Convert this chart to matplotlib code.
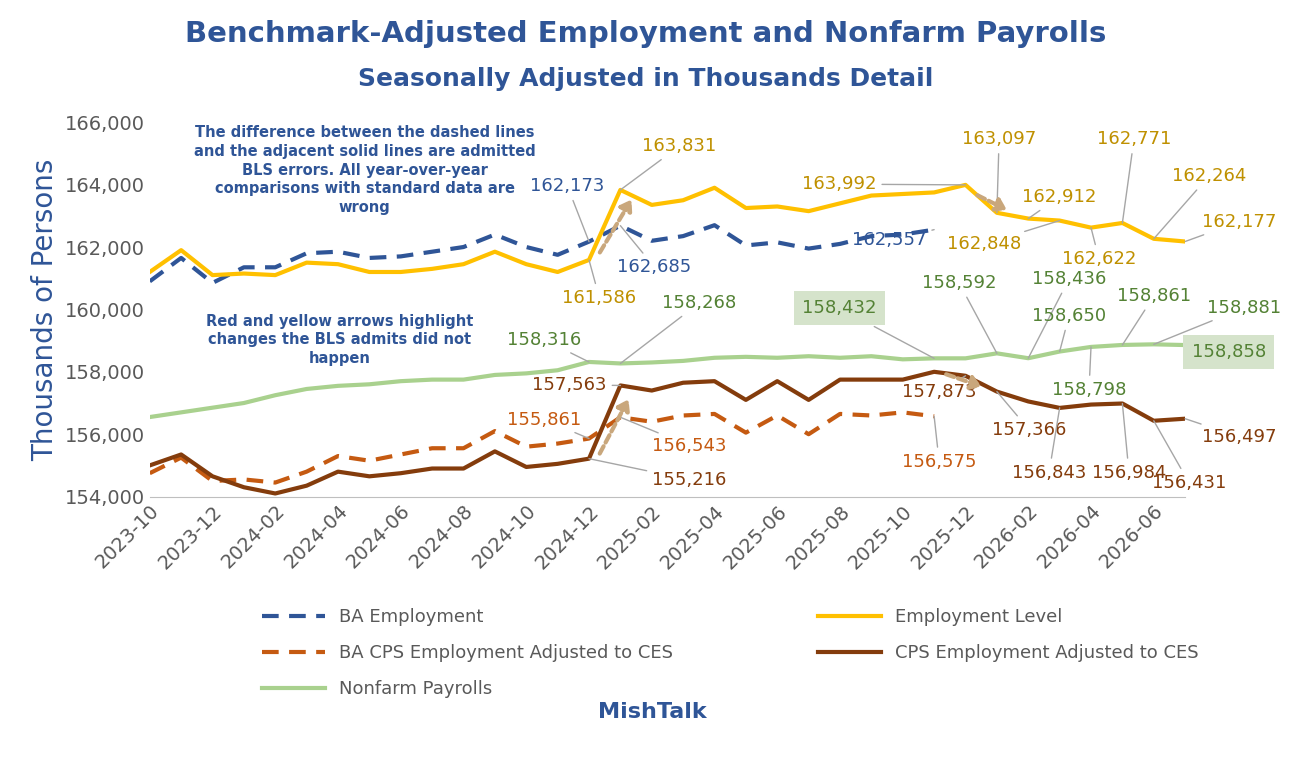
import numpy as np
import matplotlib.pyplot as plt
import pandas as pd

months = pd.date_range('2023-10-01', periods=34, freq='MS').strftime('%Y-%m').tolist()

emp_level = [161200, 161900, 161100, 161150, 161100, 161500, 161450, 161200, 161200, 161300,
             161450, 161850, 161450, 161200, 161586, 163831, 163350, 163500, 163900, 163250,
             163300, 163150, 163400, 163650, 163700, 163750, 163992, 163097, 162912, 162848,
             162622, 162771, 162264, 162177]
ba_emp = [160900, 161650, 160850, 161350, 161350, 161800, 161850, 161650, 161700, 161850,
          162000, 162400, 162000, 161750, 162173, 162685, 162200, 162350, 162700, 162050,
          162150, 161950, 162100, 162350, 162400, 162557]
nfp = [156550, 156700, 156850, 157000, 157250, 157450, 157550, 157600, 157700, 157750,
       157750, 157900, 157950, 158050, 158316, 158268, 158300, 158350, 158450, 158480,
       158450, 158500, 158450, 158500, 158400, 158432, 158432, 158592, 158436, 158650,
       158798, 158861, 158881, 158858]
cps = [155000, 155350, 154650, 154300, 154100, 154350, 154800, 154650, 154750, 154900,
       154900, 155450, 154950, 155050, 155216, 157563, 157400, 157650, 157700, 157100,
       157700, 157100, 157750, 157750, 157750, 158000, 157873, 157366, 157050, 156843,
       156950, 156984, 156431, 156497]
ba_cps = [154750, 155250, 154500, 154550, 154450, 154800, 155300, 155150, 155350, 155550,
          155550, 156100, 155600, 155700, 155861, 156543, 156400, 156600, 156650, 156050,
          156600, 156000, 156650, 156600, 156700, 156575]

BLUE = '#2F5597'; GOLD = '#FFC000'; GOLD_T = '#BF9000'; GREEN = '#A9D18E'; GREEN_T = '#548235'
BROWN = '#843C0C'; ORANGE = '#C55A11'; TAN = '#C9A77C'

fig = plt.figure(figsize=(12.91, 7.64), dpi=100)
ax = fig.add_axes([0.116, 0.35, 0.802, 0.49])
x = np.arange(len(months))
l1, = ax.plot(x[:len(ba_emp)], ba_emp, color=BLUE, lw=3, ls=(0, (4, 2.5)), label='BA Employment')
l2, = ax.plot(x, emp_level, color=GOLD, lw=3, label='Employment Level')
l3, = ax.plot(x[:len(ba_cps)], ba_cps, color=ORANGE, lw=3, ls=(0, (4, 2.5)), label='BA CPS Employment Adjusted to CES')
l4, = ax.plot(x, cps, color=BROWN, lw=3, label='CPS Employment Adjusted to CES')
l5, = ax.plot(x, nfp, color=GREEN, lw=3, label='Nonfarm Payrolls')

ax.set_xlim(0, 33)
ax.set_ylim(154000, 166000)
ax.set_yticks(range(154000, 166001, 2000))
ax.yaxis.set_major_formatter(plt.FuncFormatter(lambda v, p: f'{int(v):,}'))
ax.set_xticks(x[::2])
ax.set_xticklabels(months[::2], rotation=45, ha='right', rotation_mode='anchor')
ax.tick_params(labelsize=14, colors='#595959', length=0)
for s in ['top', 'right', 'left']:
    ax.spines[s].set_visible(False)
ax.spines['bottom'].set_color('#BFBFBF')
ax.set_ylabel('Thousands of Persons', fontsize=20, color=BLUE)

def px(xp, yp):
    return ((xp - 150) / 31.4, 166000 - (yp - 122) * 32)

series = {'g': emp_level, 'b': ba_emp, 'n': nfp, 'c': cps, 'o': ba_cps}
cols = {'g': GOLD_T, 'b': BLUE, 'n': GREEN_T, 'c': BROWN, 'o': ORANGE}
labels = [
    ('b', 14, 568, 186), ('g', 15, 680, 146), ('b', 15, 655, 267), ('g', 14, 600, 298),
    ('n', 14, 545, 340), ('n', 15, 700, 303), ('o', 14, 545, 420), ('c', 15, 570, 385),
    ('o', 15, 690, 446), ('c', 14, 690, 480), ('g', 26, 840, 184), ('b', 25, 890, 240),
    ('g', 27, 1000, 139), ('g', 28, 1060, 197), ('g', 29, 985, 244), ('g', 31, 1135, 139),
    ('g', 30, 1100, 259), ('g', 32, 1210, 176), ('g', 33, 1240, 222), ('n', 25, 840, 308),
    ('n', 27, 960, 283), ('n', 28, 1070, 279), ('n', 29, 1070, 316), ('n', 30, 1090, 390),
    ('n', 31, 1155, 296), ('n', 32, 1245, 308), ('n', 33, 1230, 352), ('c', 26, 940, 392),
    ('c', 27, 1030, 430), ('o', 25, 940, 462), ('c', 29, 1050, 473), ('c', 31, 1130, 473),
    ('c', 32, 1190, 483), ('c', 33, 1240, 437),
]
boxed = {(840, 308), (1230, 352)}
for k, i, xp, yp in labels:
    v = series[k][i]
    bbox = dict(fc='#D5E3CB', ec='none', pad=6) if (xp, yp) in boxed else None
    ax.annotate(f'{v:,}', xy=(i, v), xytext=px(xp, yp), fontsize=13, color=cols[k],
                ha='center', va='center', annotation_clip=False, bbox=bbox,
                arrowprops=dict(arrowstyle='-', color='#A6A6A6', lw=1, shrinkA=2, shrinkB=0))

for (x0, y0, x1, y1) in [(14.3, 161750, 15.4, 163600), (26.3, 163700, 27.4, 163150),
                         (14.3, 155300, 15.3, 157200), (25.3, 157950, 26.6, 157500)]:
    ax.annotate('', xy=(x1, y1), xytext=(x0, y0),
                arrowprops=dict(arrowstyle='-|>,head_width=0.4,head_length=0.6', color=TAN,
                                lw=3, ls=(0, (2, 1))))

ax.text(*px(365, 170), 'The difference between the dashed lines\nand the adjacent solid lines are admitted\n'
        'BLS errors. All year-over-year\ncomparisons with standard data are\nwrong',
        fontsize=10.5, color=BLUE, fontweight='bold', ha='center', va='center', linespacing=1.3)
ax.text(*px(340, 340), 'Red and yellow arrows highlight\nchanges the BLS admits did not\nhappen',
        fontsize=10.5, color=BLUE, fontweight='bold', ha='center', va='center', linespacing=1.3)

fig.text(0.5, 0.955, 'Benchmark-Adjusted Employment and Nonfarm Payrolls', fontsize=21,
         fontweight='bold', color=BLUE, ha='center', va='center', family='Liberation Sans Narrow')
fig.text(0.5, 0.897, 'Seasonally Adjusted in Thousands Detail', fontsize=18,
         fontweight='bold', color=BLUE, ha='center', va='center')
fig.legend([l1, l3, l5, l2, l4], [l.get_label() for l in [l1, l3, l5, l2, l4]],
           loc='upper left', bbox_to_anchor=(0.19, 0.225), ncol=2, frameon=False,
           fontsize=13, labelcolor='#595959', handlelength=3.5, columnspacing=8, labelspacing=1.0)
fig.text(0.505, 0.068, 'MishTalk', fontsize=16, fontweight='bold', color=BLUE, ha='center', va='center')
fig.savefig('out.png', dpi=100)
